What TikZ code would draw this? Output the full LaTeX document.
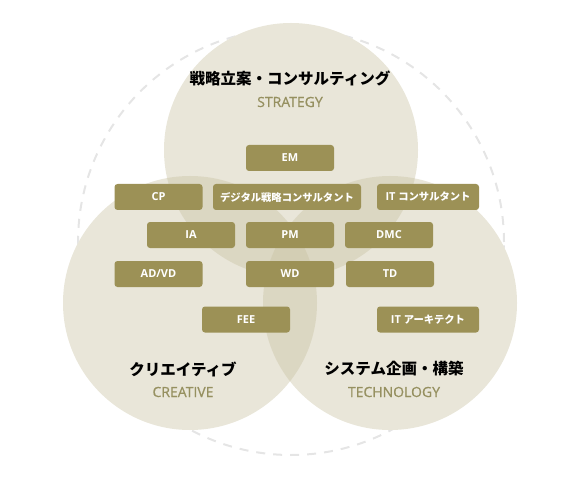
\documentclass[tikz,border=0pt]{standalone}
\usepackage{fontspec}
\setmainfont{Open Sans}
\newfontfamily\cjk{Noto Sans CJK JP}
\newfontfamily\subfont{Open Sans}[FakeBold=0.7]
\newcommand{\ja}[1]{{\fontsize{10.3}{12}\selectfont\cjk #1}}
\usepackage{xcolor}
\definecolor{circfill}{RGB}{200,193,160}
\definecolor{tagolive}{RGB}{156,145,86}
\definecolor{subolive}{RGB}{150,144,96}
\definecolor{ringgray}{RGB}{229,229,229}
\tikzset{
  area/.style={circle, fill=circfill, fill opacity=0.4, minimum size=254pt, inner sep=0pt},
  cover/.style={circle, fill=white, minimum size=254pt, inner sep=0pt},
  ring/.style={circle, draw=ringgray, line width=2pt, dash pattern=on 9pt off 8pt, minimum size=426pt, inner sep=0pt},
  tag/.style={fill=tagolive, text=white, rounded corners=3pt, minimum width=88pt, minimum height=26pt, inner sep=0pt, font=\fontsize{11}{13}\selectfont\bfseries},
  head/.style={font=\fontsize{15.5}{18}\selectfont\cjk\bfseries, text=black},
  sub/.style={font=\fontsize{14}{16}\selectfont\subfont, text=subolive}
}
\begin{document}
\begin{tikzpicture}[x=1pt,y=-1pt]
\useasboundingbox (0,0) rectangle (580,478);
%% outer ring, hidden where the areas lie
\node[ring] (outer) at (291,242) {};
\foreach \p in {(291,150),(190,303),(390,303)}
  \node[cover] at \p {};
%% the three areas
\node[area] (strategy) at (291,150) {};
\node[area] (creative) at (190,303) {};
\node[area] (technology) at (390,303) {};
%% titles
\node[head] (strategyja) at (290,78) {戦略立案・コンサルティング};
\node[sub] (strategyen) at (290,102) {STRATEGY};
\node[head] (creativeja) at (183,369) {クリエイティブ};
\node[sub] (creativeen) at (183,392) {CREATIVE};
\node[head] (technologyja) at (394,369) {システム企画・構築};
\node[sub] (technologyen) at (394,392) {TECHNOLOGY};
%% roles
\node[tag] (em) at (290,158) {EM};
\node[tag] (cp) at (158.5,197) {CP};
\node[tag, minimum width=148pt] (dsc) at (287,197) {\ja{デジタル戦略コンサルタント}};
\node[tag, minimum width=102pt] (itc) at (428,197) {IT \ja{コンサルタント}};
\node[tag] (ia) at (191,235) {IA};
\node[tag] (pm) at (290,235) {PM};
\node[tag] (dmc) at (389,235) {DMC};
\node[tag] (advd) at (158.5,274) {AD/VD};
\node[tag] (wd) at (290,274) {WD};
\node[tag] (td) at (390,274) {TD};
\node[tag] (fee) at (246,319.5) {FEE};
\node[tag, minimum width=102pt] (ita) at (428,319.5) {IT \ja{アーキテクト}};
\end{tikzpicture}
\end{document}
